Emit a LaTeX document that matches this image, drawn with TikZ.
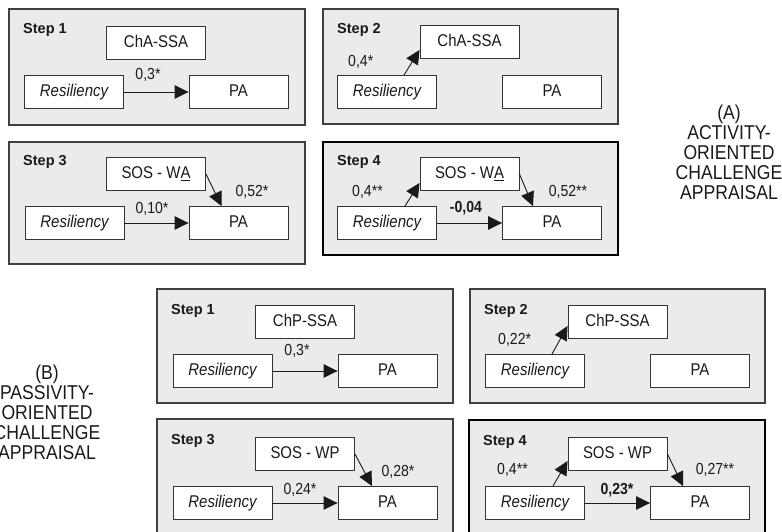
\documentclass[tikz,border=0pt]{standalone}
\usepackage{fontspec}
\setmainfont{Liberation Sans}
\newfontfamily\nfont[FakeStretch=0.88]{Liberation Sans}
\usetikzlibrary{arrows.meta}
\definecolor{panelgray}{HTML}{EBEBEB}
\definecolor{ink}{HTML}{1A1A1A}
\tikzset{
 panel/.style={draw=black!75, line width=1.2pt, fill=panelgray},
 keypanel/.style={draw=black, line width=2.8pt, fill=panelgray},
 varbox/.style={draw=black!80, line width=0.9pt, fill=white, minimum width=99pt, minimum height=33pt, inner sep=0pt, font=\nfont\fontsize{17}{19}\selectfont, text=ink, text height=12pt, text depth=3pt},
 steplbl/.style={font=\bfseries\fontsize{14.5}{16}\selectfont, anchor=base west, inner sep=0pt, text=ink},
 coef/.style={font=\nfont\fontsize{16}{18}\selectfont, inner sep=0pt, text=ink},
 arr/.style={draw=ink, line width=0.9pt, -{Triangle[length=14pt,width=13.5pt]}},
 group/.style={font=\nfont\fontsize{20}{20}\selectfont, align=center, inner sep=0pt, text=ink}
}
\begin{document}
\begin{tikzpicture}[x=1pt,y=-1pt]
\useasboundingbox (0,0) rectangle (782,532);

% ---------------- Panel A ----------------
% Step 1
\begin{scope}[shift={(9,9)}]
\draw[panel] (0,0) rectangle (296,116);
\node[steplbl] (a1s) at (14,25) {Step 1};
\node[varbox] (a1m) at (147,34) {ChA-SSA};
\node[varbox] (a1r) at (65,83) {\itshape Resiliency};
\node[varbox] (a1p) at (229.5,83) {PA};
\draw[arr] (a1r) -- (a1p);
\node[coef] (a1c) at (139,66) {0,3*};
\end{scope}

% Step 2
\begin{scope}[shift={(323,9)}]
\draw[panel] (0,0) rectangle (295,115);
\node[steplbl] (a2s) at (14,25) {Step 2};
\node[varbox] (a2m) at (146.5,33) {ChA-SSA};
\node[varbox] (a2r) at (64,83) {\itshape Resiliency};
\node[varbox] (a2p) at (229,83) {PA};
\draw[arr] ([xshift=17pt]a2r.north) -- ([yshift=9pt]a2m.south west);
\node[coef, anchor=west] (a2c) at (25,53) {0,4*};
\end{scope}

% Step 3
\begin{scope}[shift={(9,142)}]
\draw[panel] (0,0) rectangle (296,122);
\node[steplbl] (a3s) at (14,23) {Step 3};
\node[varbox] (a3m) at (147,32) {SOS - W\underline{A}};
\node[varbox] (a3r) at (65.5,81) {\itshape Resiliency};
\node[varbox] (a3p) at (229.5,81) {PA};
\draw[arr] (a3r) -- (a3p);
\draw[arr] (a3m.east) -- ([xshift=-17pt]a3p.north);
\node[coef] (a3c) at (143,67) {0,10*};
\node[coef] (a3d) at (243,50) {0,52*};
\end{scope}

% Step 4
\begin{scope}[shift={(323,142)}]
\draw[keypanel] (0,0) rectangle (295,113);
\node[steplbl] (a4s) at (14,23) {Step 4};
\node[varbox] (a4m) at (146.5,32) {SOS - W\underline{A}};
\node[varbox] (a4r) at (64,81) {\itshape Resiliency};
\node[varbox] (a4p) at (229,81) {PA};
\draw[arr] (a4r) -- (a4p);
\draw[arr] ([xshift=18pt]a4r.north) -- ([yshift=8pt]a4m.south west);
\draw[arr] (a4m.east) -- ([xshift=-19pt]a4p.north);
\node[coef, font=\nfont\bfseries\fontsize{16}{18}\selectfont] (a4c) at (143,66) {-0,04};
\node[coef, anchor=west] (a4e) at (29,50) {0,4**};
\node[coef] (a4d) at (245,50) {0,52**};
\end{scope}

\node[group] (ga) at (729,152) {(A)\\ACTIVITY-\\ORIENTED\\CHALLENGE\\APPRAISAL};

% ---------------- Panel B ----------------
% Step 1
\begin{scope}[shift={(157,289)}]
\draw[panel] (0,0) rectangle (296,114);
\node[steplbl] (b1s) at (14,25) {Step 1};
\node[varbox] (b1m) at (148,33) {ChP-SSA};
\node[varbox] (b1r) at (65.5,82) {\itshape Resiliency};
\node[varbox] (b1p) at (230.5,82) {PA};
\draw[arr] (b1r) -- (b1p);
\node[coef] (b1c) at (140,62) {0,3*};
\end{scope}

% Step 2
\begin{scope}[shift={(470,289)}]
\draw[panel] (0,0) rectangle (295,114);
\node[steplbl] (b2s) at (14,25) {Step 2};
\node[varbox] (b2m) at (147.5,33) {ChP-SSA};
\node[varbox] (b2r) at (65,82) {\itshape Resiliency};
\node[varbox] (b2p) at (230,82) {PA};
\draw[arr] ([xshift=17pt]b2r.north) -- ([yshift=13pt]b2m.south west);
\node[coef, anchor=west] (b2c) at (28,51) {0,22*};
\end{scope}

% Step 3
\begin{scope}[shift={(157,419)}]
\draw[panel] (0,0) rectangle (296,130);
\node[steplbl] (b3s) at (14,25) {Step 3};
\node[varbox] (b3m) at (148,35) {SOS - WP};
\node[varbox] (b3r) at (65.5,84) {\itshape Resiliency};
\node[varbox] (b3p) at (230.5,84) {PA};
\draw[arr] (b3r) -- (b3p);
\draw[arr] (b3m.east) -- ([xshift=-15.5pt]b3p.north);
\node[coef] (b3c) at (143,71) {0,24*};
\node[coef] (b3d) at (241,53) {0,28*};
\end{scope}

% Step 4
\begin{scope}[shift={(469,420)}]
\draw[keypanel] (0,0) rectangle (296,130);
\node[steplbl] (b4s) at (14,25) {Step 4};
\node[varbox] (b4m) at (148.5,34) {SOS - WP};
\node[varbox] (b4r) at (66,83) {\itshape Resiliency};
\node[varbox] (b4p) at (231,83) {PA};
\draw[arr] (b4r) -- (b4p);
\draw[arr] ([xshift=18pt]b4r.north) -- ([yshift=10pt]b4m.south west);
\draw[arr] (b4m.east) -- ([xshift=-17pt]b4p.north);
\node[coef, font=\nfont\bfseries\fontsize{16}{18}\selectfont] (b4c) at (148,70) {0,23*};
\node[coef, anchor=west] (b4e) at (28,50) {0,4**};
\node[coef] (b4d) at (246,50) {0,27**};
\end{scope}

\node[group] (gb) at (47,412) {(B)\\PASSIVITY-\\ORIENTED\\CHALLENGE\\APPRAISAL};

\end{tikzpicture}
\end{document}
